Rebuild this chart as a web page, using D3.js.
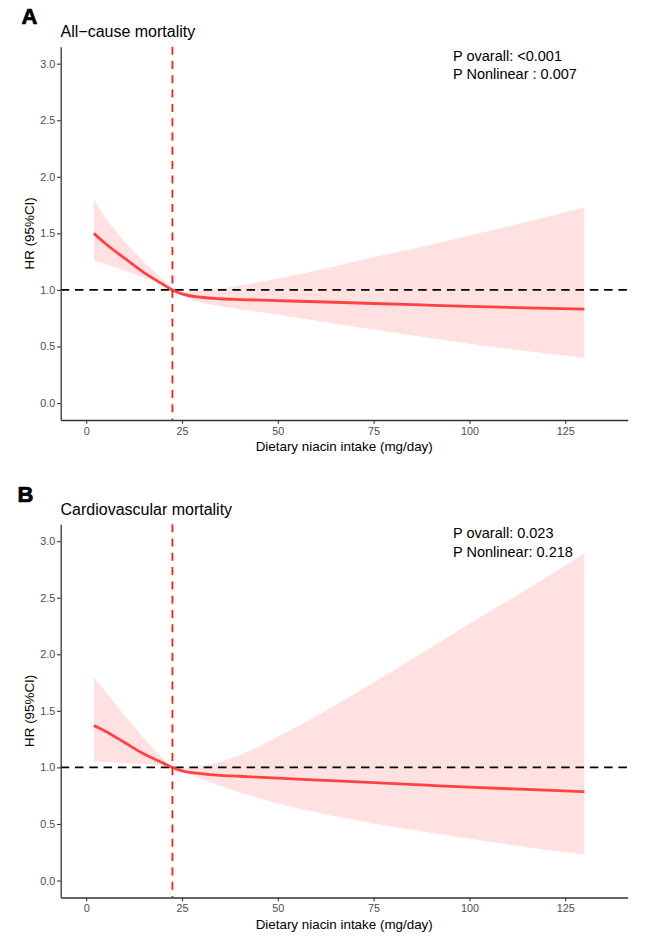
<!DOCTYPE html>
<html>
<head>
<meta charset="utf-8">
<script src="https://cdn.jsdelivr.net/npm/d3@7"></script>
<style>
  html, body { margin: 0; padding: 0; background: #fff; }
  svg { display: block; }
</style>
</head>
<body>
<svg id="chart" width="652" height="945"></svg>
<script>
// ---------- data ----------
const xTicks = [0, 25, 50, 75, 100, 125];
const yTicks = [0, 0.5, 1.0, 1.5, 2.0, 2.5, 3.0];
const refNiacin = 22.5;
const refHR = 1.0;

const niacin = [2, 5, 10, 15, 20, 22.5, 25, 30, 35, 40, 50, 62.5, 75, 87.5, 100, 115, 130];

// Panel A: all-cause mortality
const hrA = [1.50, 1.41, 1.28, 1.155, 1.05, 1.00, 0.965, 0.935, 0.922, 0.915, 0.905, 0.893, 0.88, 0.867, 0.855, 0.842, 0.83];
const loA = [1.26, 1.23, 1.17, 1.11, 1.04, 1.00, 0.95, 0.89, 0.855, 0.83, 0.78, 0.715, 0.65, 0.585, 0.525, 0.46, 0.40];
const hiA = [1.80, 1.64, 1.43, 1.25, 1.09, 1.00, 0.98, 0.99, 1.01, 1.04, 1.10, 1.19, 1.29, 1.38, 1.48, 1.60, 1.73];

// Panel B: cardiovascular mortality
const hrB = [1.37, 1.32, 1.22, 1.12, 1.04, 1.00, 0.97, 0.945, 0.93, 0.922, 0.905, 0.885, 0.865, 0.845, 0.825, 0.805, 0.785];
const loB = [1.05, 1.048, 1.04, 1.03, 1.015, 1.00, 0.965, 0.90, 0.835, 0.78, 0.68, 0.585, 0.505, 0.435, 0.37, 0.295, 0.23];
const hiB = [1.80, 1.67, 1.46, 1.26, 1.08, 1.00, 0.99, 1.01, 1.05, 1.11, 1.27, 1.50, 1.75, 2.01, 2.27, 2.575, 2.89];

const panelLabels = ["A", "B"];
const panelTitles = ["All\u2212cause mortality", "Cardiovascular mortality"];
const pOverall = ["P ovarall: <0.001", "P ovarall: 0.023"];
const pNonlinear = ["P Nonlinear : 0.007", "P Nonlinear: 0.218"];
const xTitle = "Dietary niacin intake (mg/day)";
const yTitle = "HR (95%CI)";

// ---------- drawing ----------
const svg = d3.select("#chart");
svg.append("rect").attr("width", 652).attr("height", 945).attr("fill", "#fff");

const FONT = "'Liberation Sans', Arial, Helvetica, sans-serif";
const panelOffset = 477.5;

const x = d3.scaleLinear().domain([-6.65, 141.3]).range([60.7, 627.7]);
const y = d3.scaleLinear().domain([-0.15, 3.15]).range([420, 46.7]);

function drawPanel(i, hr, lo, hi) {
  const g = svg.append("g").attr("transform", `translate(0,${i * panelOffset})`);
  const rows = niacin.map((n, k) => ({ n, hr: hr[k], lo: lo[k], hi: hi[k] }));

  // CI ribbon
  g.append("path")
    .datum(rows)
    .attr("fill", "#FFE1E2")
    .attr("d", d3.area().x(d => x(d.n)).y0(d => y(d.lo)).y1(d => y(d.hi)).curve(d3.curveMonotoneX));

  // reference lines
  g.append("line")
    .attr("x1", x.range()[0]).attr("x2", x.range()[1])
    .attr("y1", y(refHR)).attr("y2", y(refHR))
    .attr("stroke", "#000").attr("stroke-width", 1.8).attr("stroke-dasharray", "8.5,5.8");

  // HR line
  g.append("path")
    .datum(rows)
    .attr("fill", "none")
    .attr("stroke", "#FF4343")
    .attr("stroke-width", 2.8)
    .attr("stroke-linecap", "butt")
    .attr("d", d3.line().x(d => x(d.n)).y(d => y(d.hr)).curve(d3.curveMonotoneX));

  g.append("line")
    .attr("x1", x(refNiacin)).attr("x2", x(refNiacin))
    .attr("y1", y.range()[1]).attr("y2", y.range()[0])
    .attr("stroke", "#FF1A1A").attr("stroke-width", 1.8).attr("stroke-dasharray", "8,6.3");

  // axes
  const yAxis = g.append("g").attr("transform", `translate(${x.range()[0]},0)`)
    .call(d3.axisLeft(y).tickValues(yTicks).tickFormat(d3.format(".1f")).tickSize(3.7).tickSizeOuter(0).tickPadding(1.8));
  const xAxis = g.append("g").attr("transform", `translate(0,${y.range()[0]})`)
    .call(d3.axisBottom(x).tickValues(xTicks).tickFormat(d3.format("d")).tickSize(3.7).tickSizeOuter(0).tickPadding(3.3));
  [yAxis, xAxis].forEach(ax => {
    ax.select(".domain").attr("stroke", "#333").attr("stroke-width", 1.3);
    ax.selectAll(".tick line").attr("stroke", "#333").attr("stroke-width", 1.1);
    ax.selectAll(".tick text").attr("fill", "#4D4D4D").style("font-family", FONT).style("font-size", "10.8px");
  });

  // texts
  g.append("text").attr("x", i === 0 ? 21.5 : 17.5).attr("y", 24)
    .style("font-family", FONT).style("font-weight", "bold").style("font-size", "22px")
    .attr("stroke", "#000").attr("stroke-width", 0.7)
    .text(panelLabels[i]);
  g.append("text").attr("x", 60.5).attr("y", 37)
    .style("font-family", FONT).style("font-size", "16px").attr("fill", "#000")
    .text(panelTitles[i]);
  g.append("text").attr("x", 453).attr("y", 60.5)
    .style("font-family", FONT).style("font-size", "14.5px").attr("fill", "#000")
    .text(pOverall[i]);
  g.append("text").attr("x", 453).attr("y", 79)
    .style("font-family", FONT).style("font-size", "14.5px").attr("fill", "#000")
    .text(pNonlinear[i]);
  g.append("text").attr("x", (x.range()[0] + x.range()[1]) / 2).attr("y", 451)
    .attr("text-anchor", "middle")
    .style("font-family", FONT).style("font-size", "13.4px").attr("fill", "#000")
    .text(xTitle);
  g.append("text")
    .attr("transform", `translate(34.3,${(y.range()[0] + y.range()[1]) / 2}) rotate(-90)`)
    .attr("text-anchor", "middle")
    .style("font-family", FONT).style("font-size", "13.4px").attr("fill", "#000")
    .text(yTitle);
}

drawPanel(0, hrA, loA, hiA);
drawPanel(1, hrB, loB, hiB);
</script>
</body>
</html>
